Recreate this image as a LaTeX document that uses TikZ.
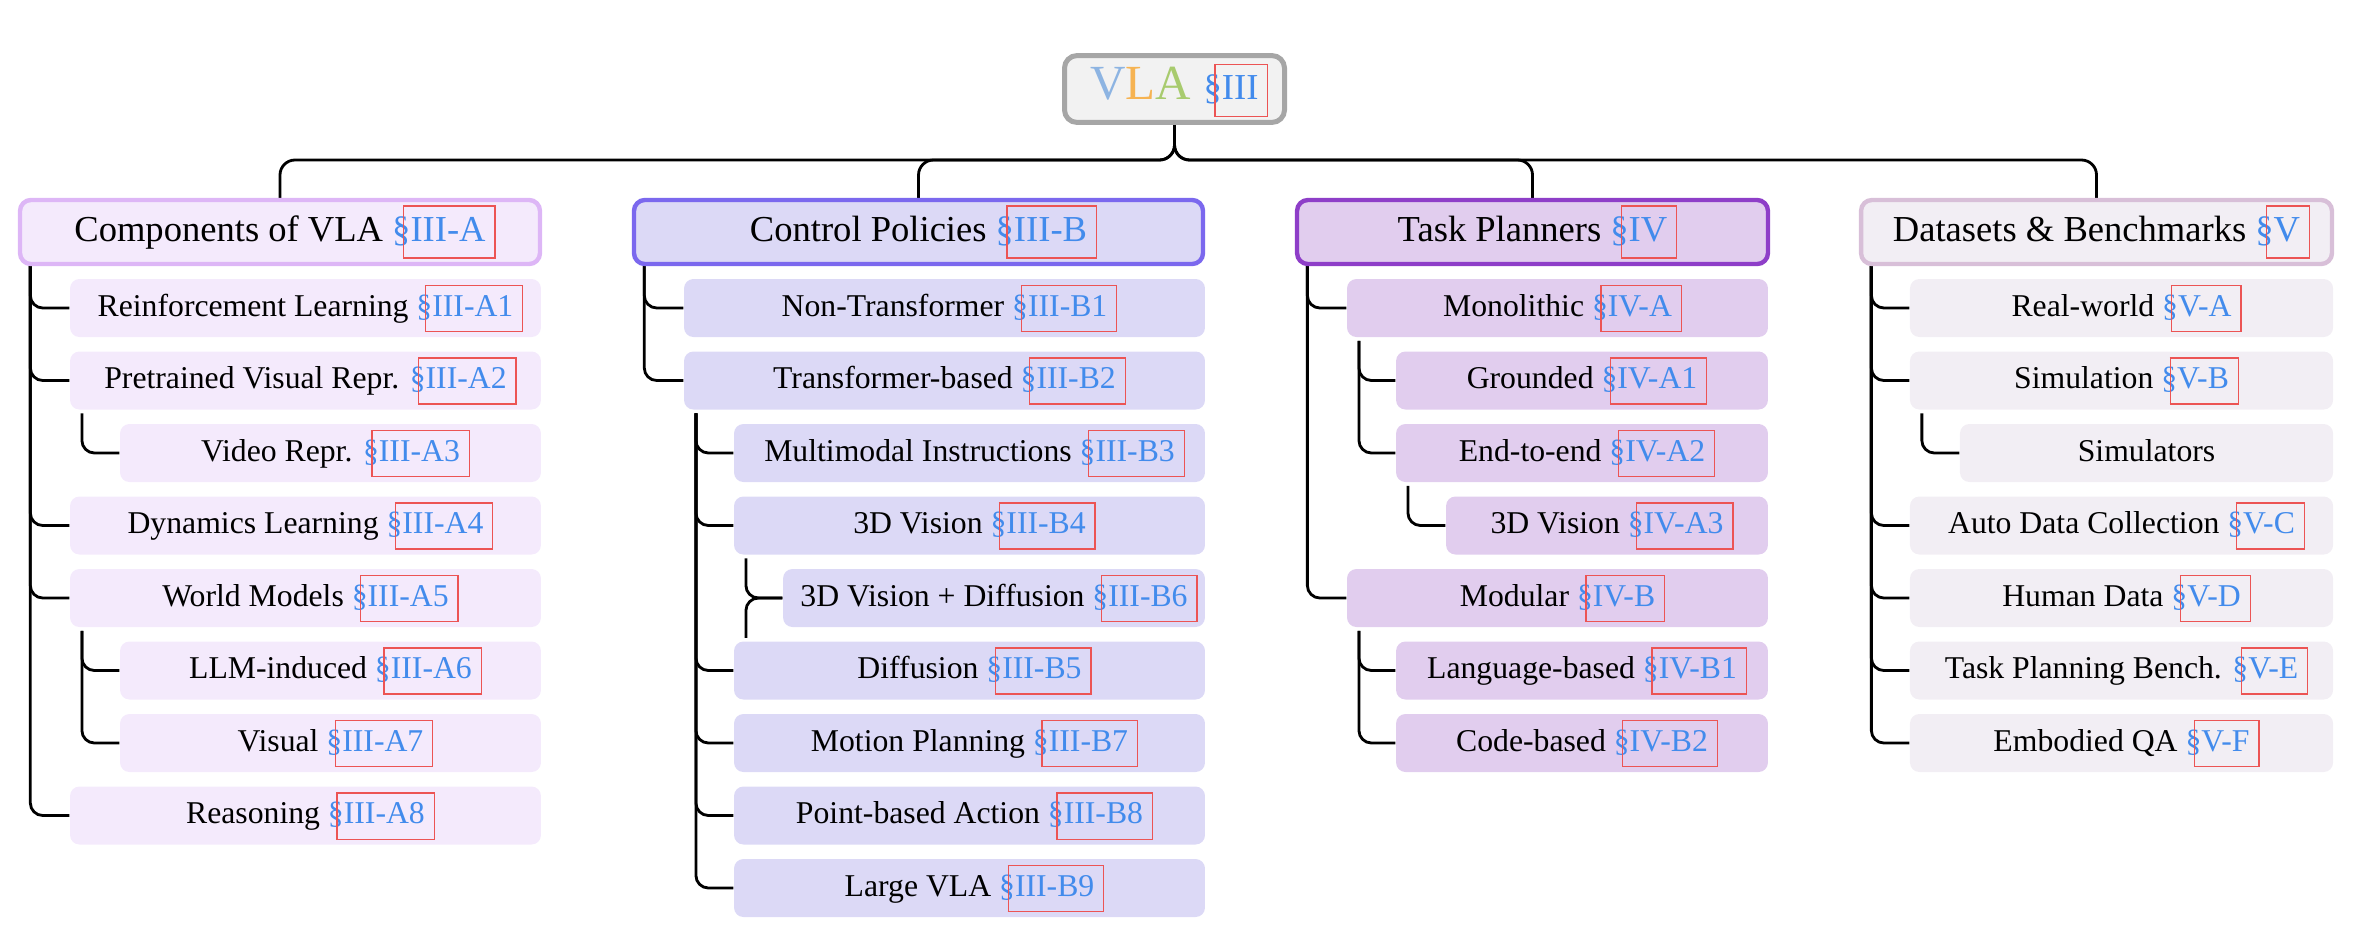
\documentclass[tikz,border=0pt]{standalone}
\usepackage{fontspec}
\setmainfont{Liberation Serif}
\usepackage{tikz}
\usetikzlibrary{positioning, calc, backgrounds}

\definecolor{linkblue}{RGB}{66,139,236}
\definecolor{linkred}{RGB}{236,84,84}
\definecolor{vlaV}{RGB}{141,180,226}
\definecolor{vlaL}{RGB}{246,179,82}
\definecolor{vlaA}{RGB}{168,203,110}
\definecolor{rootfill}{RGB}{242,242,242}
\definecolor{rootline}{RGB}{166,166,166}
\definecolor{compfill}{RGB}{244,234,252}
\definecolor{compline}{RGB}{221,182,246}
\definecolor{ctrlfill}{RGB}{220,217,246}
\definecolor{ctrlline}{RGB}{123,104,238}
\definecolor{taskfill}{RGB}{225,205,238}
\definecolor{taskline}{RGB}{142,62,200}
\definecolor{datafill}{RGB}{242,238,244}
\definecolor{dataline}{RGB}{216,191,216}

% section reference: blue text, red link frame
\newcommand{\sref}[1]{\textcolor{linkblue}{\S}{\fboxsep=1pt\fboxrule=0.4pt\kern-2.4pt\color{linkred}\fbox{\kern1pt\color{linkblue}\rule[-0.36em]{0pt}{1.22em}#1\kern1.8pt}\kern-3.2pt}}

\begin{document}
\begin{tikzpicture}[x=0.32pt, y=-0.32pt,
    root/.style={rectangle, rounded corners=4pt, draw=rootline, fill=rootfill, line width=1.6pt, minimum width=70.4pt, minimum height=21.4pt, text height=10.5pt, text depth=3.5pt, inner sep=0pt, font=\fontsize{15.7}{18.8}\selectfont},
    cat/.style={rectangle, rounded corners=3.5pt, line width=1.4pt, minimum height=20.5pt, text height=7.8pt, text depth=2pt, inner sep=0pt, font=\fontsize{11.7}{14}\selectfont},
    leaf/.style={rectangle, rounded corners=3pt, minimum height=18.56pt, text height=7pt, text depth=1.6pt, inner sep=0pt, font=\fontsize{10.15}{12.2}\selectfont},
    link/.style={black, line width=0.9pt, rounded corners=4pt},
]

\useasboundingbox (0,0) rectangle (2370,944);

% === ROOT ===
\node[root] (vla) at (1174.5,89) {\textcolor{vlaV}{V}\textcolor{vlaL}{L}\textcolor{vlaA}{A} {\fontsize{11.7}{14}\selectfont\sref{III}}};
\coordinate (bus) at (1174.5,160);

% === CATEGORIES ===
\node[cat, draw=compline, fill=compfill, minimum width=166.4pt] (comp) at (280,232) {Components of VLA \sref{III-A}};
\node[cat, draw=ctrlline, fill=ctrlfill, minimum width=182.1pt] (ctrl) at (918.5,232) {Control Policies \sref{III-B}};
\node[cat, draw=taskline, fill=taskfill, minimum width=150.7pt] (task) at (1532.5,232) {Task Planners \sref{IV}};
\node[cat, draw=dataline, fill=datafill, minimum width=150.7pt] (data) at (2096.5,232) {Datasets \& Benchmarks \sref{V}};

% === COMPONENTS OF VLA ===
\node[leaf, fill=compfill, minimum width=150.7pt] (c1) at (305.5,308) {Reinforcement Learning \sref{III-A1}};
\node[leaf, fill=compfill, minimum width=150.7pt] (c2) at (305.5,380.5) {Pretrained Visual Repr. \sref{III-A2}};
\node[leaf, fill=compfill, minimum width=134.7pt] (c3) at (330.5,453) {Video Repr. \sref{III-A3}};
\node[leaf, fill=compfill, minimum width=150.7pt] (c4) at (305.5,525.5) {Dynamics Learning \sref{III-A4}};
\node[leaf, fill=compfill, minimum width=150.7pt] (c5) at (305.5,598) {World Models \sref{III-A5}};
\node[leaf, fill=compfill, minimum width=134.7pt] (c6) at (330.5,670.5) {LLM-induced \sref{III-A6}};
\node[leaf, fill=compfill, minimum width=134.7pt] (c7) at (330.5,743) {Visual \sref{III-A7}};
\node[leaf, fill=compfill, minimum width=150.7pt] (c8) at (305.5,815.5) {Reasoning \sref{III-A8}};

% === CONTROL POLICIES ===
\node[leaf, fill=ctrlfill, minimum width=166.7pt] (p1) at (944.5,308) {Non-Transformer \sref{III-B1}};
\node[leaf, fill=ctrlfill, minimum width=166.7pt] (p2) at (944.5,380.5) {Transformer-based \sref{III-B2}};
\node[leaf, fill=ctrlfill, minimum width=150.7pt] (p3) at (969.5,453) {Multimodal Instructions \sref{III-B3}};
\node[leaf, fill=ctrlfill, minimum width=150.7pt] (p4) at (969.5,525.5) {3D Vision \sref{III-B4}};
\node[leaf, fill=ctrlfill, minimum width=135pt] (p6) at (994,598) {3D Vision + Diffusion \sref{III-B6}};
\node[leaf, fill=ctrlfill, minimum width=150.7pt] (p5) at (969.5,670.5) {Diffusion \sref{III-B5}};
\node[leaf, fill=ctrlfill, minimum width=150.7pt] (p7) at (969.5,743) {Motion Planning \sref{III-B7}};
\node[leaf, fill=ctrlfill, minimum width=150.7pt] (p8) at (969.5,815.5) {Point-based Action \sref{III-B8}};
\node[leaf, fill=ctrlfill, minimum width=150.7pt] (p9) at (969.5,888) {Large VLA \sref{III-B9}};

% === TASK PLANNERS ===
\node[leaf, fill=taskfill, minimum width=134.7pt] (t1) at (1557.5,308) {Monolithic \sref{IV-A}};
\node[leaf, fill=taskfill, minimum width=119pt] (t2) at (1582,380.5) {Grounded \sref{IV-A1}};
\node[leaf, fill=taskfill, minimum width=119pt] (t3) at (1582,453) {End-to-end \sref{IV-A2}};
\node[leaf, fill=taskfill, minimum width=103pt] (t4) at (1607,525.5) {3D Vision \sref{IV-A3}};
\node[leaf, fill=taskfill, minimum width=134.7pt] (t5) at (1557.5,598) {Modular \sref{IV-B}};
\node[leaf, fill=taskfill, minimum width=119pt] (t6) at (1582,670.5) {Language-based \sref{IV-B1}};
\node[leaf, fill=taskfill, minimum width=119pt] (t7) at (1582,743) {Code-based \sref{IV-B2}};

% === DATASETS & BENCHMARKS ===
\node[leaf, fill=datafill, minimum width=135.4pt] (d1) at (2121.5,308) {Real-world \sref{V-A}};
\node[leaf, fill=datafill, minimum width=135.4pt] (d2) at (2121.5,380.5) {Simulation \sref{V-B}};
\node[leaf, fill=datafill, minimum width=119.4pt] (d3) at (2146.5,453) {Simulators};
\node[leaf, fill=datafill, minimum width=135.4pt] (d4) at (2121.5,525.5) {Auto Data Collection \sref{V-C}};
\node[leaf, fill=datafill, minimum width=135.4pt] (d5) at (2121.5,598) {Human Data \sref{V-D}};
\node[leaf, fill=datafill, minimum width=135.4pt] (d6) at (2121.5,670.5) {Task Planning Bench. \sref{V-E}};
\node[leaf, fill=datafill, minimum width=135.4pt] (d7) at (2121.5,743) {Embodied QA \sref{V-F}};

% === CONNECTORS ===
\begin{scope}[on background layer]
% root -> categories
\foreach \c in {comp,ctrl,task,data} {
    \draw[link, rounded corners=4.8pt] (vla.south) -- (bus) -| (\c.north);
}
% components
\foreach \c in {c1,c2,c4,c5,c8} {
    \draw[link] ([xshift=4pt]comp.south west) |- (\c.west);
}
\draw[link] ([xshift=4pt,yshift=-1pt]c2.south west) |- (c3.west);
\foreach \c in {c6,c7} {
    \draw[link] ([xshift=4pt,yshift=-1pt]c5.south west) |- (\c.west);
}
% control policies
\foreach \c in {p1,p2} {
    \draw[link] ([xshift=4pt]ctrl.south west) |- (\c.west);
}
\foreach \c in {p3,p4,p5,p7,p8,p9} {
    \draw[link] ([xshift=4pt,yshift=-1pt]p2.south west) |- (\c.west);
}
\draw[link] ([xshift=4pt,yshift=-1pt]p4.south west) |- (p6.west);
\draw[link] ([xshift=4pt,yshift=1pt]p5.north west) |- (p6.west);
% task planners
\foreach \c in {t1,t5} {
    \draw[link] ([xshift=4pt]task.south west) |- (\c.west);
}
\foreach \c in {t2,t3} {
    \draw[link] ([xshift=4pt,yshift=-1pt]t1.south west) |- (\c.west);
}
\draw[link] ([xshift=4pt,yshift=-1pt]t3.south west) |- (t4.west);
\foreach \c in {t6,t7} {
    \draw[link] ([xshift=4pt,yshift=-1pt]t5.south west) |- (\c.west);
}
% datasets & benchmarks
\foreach \c in {d1,d2,d4,d5,d6,d7} {
    \draw[link] ([xshift=4pt]data.south west) |- (\c.west);
}
\draw[link] ([xshift=4pt,yshift=-1pt]d2.south west) |- (d3.west);
\end{scope}

\end{tikzpicture}
\end{document}
